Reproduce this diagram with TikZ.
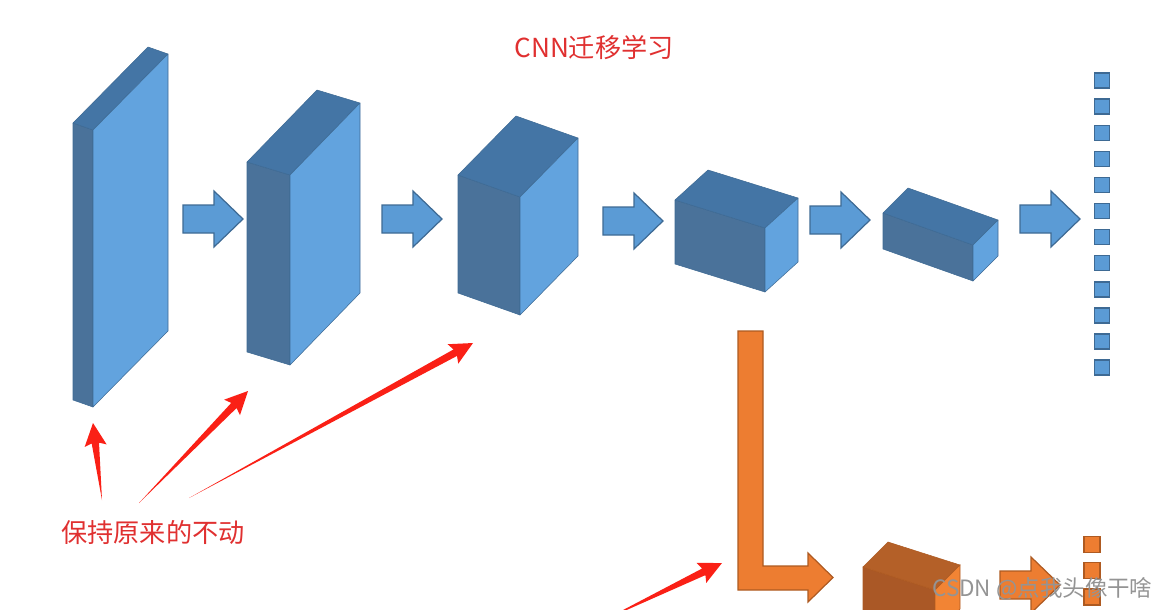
\documentclass[tikz,border=0pt]{standalone}
\usepackage{fontspec}
\newfontfamily\cjk{Noto Sans CJK SC}
\usepackage{tikz}
\usetikzlibrary{calc}

\definecolor{bleu}{RGB}{91,155,213}
\definecolor{bleufonce}{RGB}{62,106,148}
\definecolor{bleuavant}{RGB}{74,114,154}
\definecolor{bleudessus}{RGB}{68,117,165}
\definecolor{bleucote}{RGB}{98,163,222}
\definecolor{orangeppt}{RGB}{237,125,49}
\definecolor{orangefonce}{RGB}{174,90,33}
\definecolor{orangeavant}{RGB}{170,88,38}
\definecolor{orangedessus}{RGB}{180,96,40}
\definecolor{orangecote}{RGB}{242,132,52}
\definecolor{rougevif}{RGB}{250,32,22}
\definecolor{rougetexte}{RGB}{224,48,48}

% pave : nom, x, y (coin avant haut gauche), largeur, pente, hauteur, dx, dy (profondeur)
\newcommand{\pave}[8]{%
  \coordinate (#1) at (#2,#3);
  \filldraw[avant] (#2,#3) -- (#2+#4,#3+#5) -- (#2+#4,#3+#5+#6) -- (#2,#3+#6) -- cycle;
  \filldraw[dessus] (#2,#3) -- (#2+#7,#3+#8) -- (#2+#4+#7,#3+#5+#8) -- (#2+#4,#3+#5) -- cycle;
  \filldraw[cote] (#2+#4,#3+#5) -- (#2+#4+#7,#3+#5+#8) -- (#2+#4+#7,#3+#5+#6+#8)
    -- (#2+#4,#3+#5+#6) -- cycle;
}
% grosse fleche : style, x, y, nom
\newcommand{\blocfleche}[4]{%
  \draw[#1] (#2,#3-14) -- (#2+31,#3-14) -- (#2+31,#3-28) -- (#2+60,#3)
    -- (#2+31,#3+28) -- (#2+31,#3+14) -- (#2,#3+14) -- cycle;
  \coordinate (#4) at (#2+60,#3);
}
% fleche rouge effilee : de #1 vers #2
\newcommand{\trait}[2]{%
  \coordinate (ph) at ($(#2)!11.5pt!(#1)$);
  \coordinate (pb) at ($(#2)!13pt!(#1)$);
  \fill[rouge] (#1) -- ($(ph)!2.1pt!90:(#2)$) -- ($(pb)!6.3pt!90:(#2)$) -- (#2)
    -- ($(pb)!6.3pt!-90:(#2)$) -- ($(ph)!2.1pt!-90:(#2)$) -- cycle;
}

\begin{document}
\begin{tikzpicture}[
  x=0.02cm, y=-0.02cm,
  avant/.style={fill=bleuavant, draw=bleufonce, line width=0.3pt, line join=round},
  dessus/.style={fill=bleudessus, draw=bleufonce, line width=0.3pt, line join=round},
  cote/.style={fill=bleucote, draw=bleufonce, line width=0.3pt, line join=round},
  fleche/.style={fill=bleu, draw=bleufonce, line width=0.7pt},
  flecheorange/.style={fill=orangeppt, draw=orangefonce, line width=0.7pt},
  sortie/.style={
    rectangle,
    fill=bleu,
    draw=bleufonce,
    line width=0.8pt,
    minimum size=0.3cm,
    inner sep=0pt
  },
  rouge/.style={fill=rougevif},
  titre/.style={
    font=\cjk\fontsize{14.9pt}{17pt}\selectfont,
    text=rougetexte,
    inner sep=0pt
  },
  filigrane/.style={
    font=\cjk\fontsize{12.8pt}{14pt}\selectfont,
    text=black!42,
    inner sep=0pt
  }
]
  \useasboundingbox (0,0) rectangle (1156,609);
  \clip (0,0) rectangle (1156,609);

  % couches du CNN
  \pave{c1}{73}{123}{20}{7}{277}{75}{-76}
  \pave{c2}{247}{162}{43}{13}{190}{70}{-72}
  \pave{c3}{458}{175}{62}{22}{118}{58}{-59}
  \pave{c4}{675}{200}{90}{28}{64}{33}{-30}
  \pave{c5}{883}{213}{90}{32}{36}{25}{-25}

  \blocfleche{fleche}{183}{219}{f1}
  \blocfleche{fleche}{382}{219}{f2}
  \blocfleche{fleche}{603}{221}{f3}
  \blocfleche{fleche}{810}{220}{f4}
  \blocfleche{fleche}{1020}{219}{f5}

  \foreach \i in {0,...,11} {
    \node[sortie] (s\i) at (1102,80.5+26.1*\i) {};
  }

  % branche orange
  \filldraw[flecheorange] (738,331) -- (763,331) -- (763,566) -- (808,566) -- (808,553)
    -- (833,577.5) -- (808,602) -- (808,590) -- (738,590) -- cycle;
  \coordinate (L) at (833,577.5);

  \begin{scope}[
    avant/.style={fill=orangeavant, draw=orangefonce, line width=0.3pt},
    dessus/.style={fill=orangedessus, draw=orangefonce, line width=0.3pt},
    cote/.style={fill=orangecote, draw=orangefonce, line width=0.3pt}
  ]
    \pave{c6}{863}{567}{72}{23}{44}{25}{-25}
  \end{scope}

  \blocfleche{flecheorange}{1000}{585}{f6}

  \foreach \i in {0,1,2} {
    \node[sortie, fill=orangeppt, draw=orangefonce, minimum size=0.32cm] (o\i) at (1092,544.5+26.2*\i) {};
  }

  % textes
  \node[titre] (titre) at (594,47) {CNN迁移学习};
  \node[titre] (garde) at (153,532) {保持原来的不动};

  % fleches rouges
  \coordinate (qA) at (102,500);
  \coordinate (qB) at (139,503);
  \coordinate (qC) at (189,498);
  \coordinate (qD) at (604,620);
  \coordinate (pA) at (93,423);
  \coordinate (pB) at (248,391);
  \coordinate (pC) at (473,343);
  \coordinate (pD) at (722,563);
  \trait{qA}{pA}
  \trait{qB}{pB}
  \trait{qC}{pC}
  \trait{qD}{pD}

  \node[filigrane, anchor=west] (wm) at (932,589) {CSDN @点我头像干啥};
\end{tikzpicture}
\end{document}
